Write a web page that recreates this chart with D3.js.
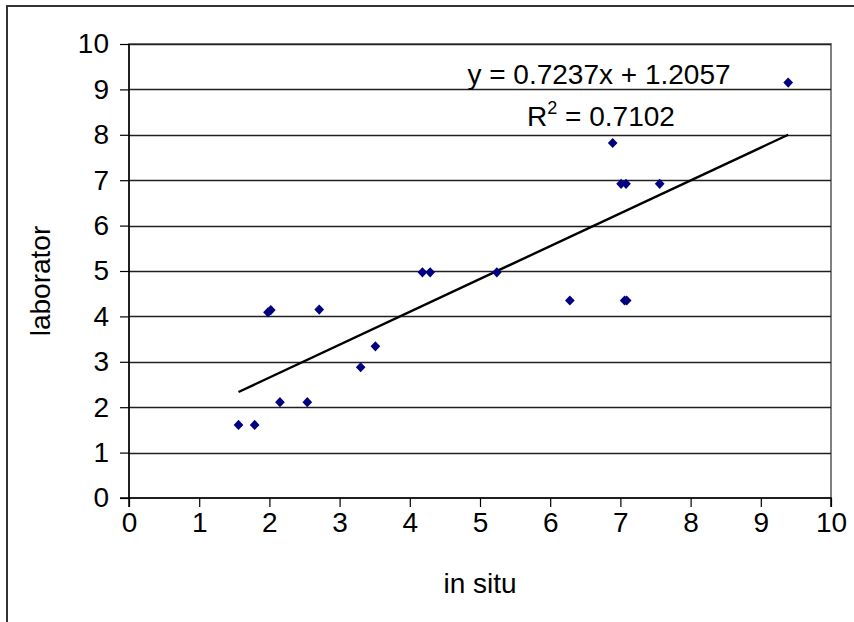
<!DOCTYPE html>
<html>
<head>
<meta charset="utf-8">
<script src="https://cdn.jsdelivr.net/npm/d3@7"></script>
<style>
  html, body { margin: 0; padding: 0; background: #fff; }
  svg { display: block; }
  text { font-family: "Liberation Sans", Arial, sans-serif; fill: #000; }
</style>
</head>
<body>
<svg id="chart" width="854" height="622"></svg>
<script>
// Field measurements: in situ vs. laboratory
const inSitu = [1.56, 1.79, 1.98, 2.02, 2.15, 2.54, 2.71, 3.30, 3.51, 4.18, 4.29, 5.24, 6.28, 6.89, 7.01, 7.08, 7.06, 7.09, 7.56, 9.39];
const laborator = [1.61, 1.61, 4.09, 4.14, 2.11, 2.11, 4.15, 2.88, 3.34, 4.97, 4.97, 4.97, 4.35, 7.82, 6.92, 6.92, 4.35, 4.35, 6.92, 9.15];

// Linear trend line (least squares)
const slope = 0.7237;
const intercept = 1.2057;
const rSquared = 0.7102;

const xTicks = [0, 1, 2, 3, 4, 5, 6, 7, 8, 9, 10];
const yTicks = [0, 1, 2, 3, 4, 5, 6, 7, 8, 9, 10];

const svg = d3.select("#chart");
const plotLeft = 129, plotRight = 831, plotTop = 44, plotBottom = 498;
const fontSize = 28;

const x = d3.scaleLinear().domain([0, 10]).range([plotLeft, plotRight]);
const y = d3.scaleLinear().domain([0, 10]).range([plotBottom, plotTop]);

// outer chart frame
svg.append("path")
  .attr("d", `M7,625 V6 H860`)
  .attr("fill", "none").attr("stroke", "#333").attr("stroke-width", 2);

// plot area frame
svg.append("rect")
  .attr("x", plotLeft).attr("y", plotTop)
  .attr("width", plotRight - plotLeft).attr("height", plotBottom - plotTop)
  .attr("fill", "none").attr("stroke", "#808080").attr("stroke-width", 2);

// horizontal gridlines
svg.append("g").selectAll("line").data(yTicks.filter(d => d > 0)).join("line")
  .attr("x1", plotLeft).attr("x2", plotRight)
  .attr("y1", d => Math.round(y(d)) + 0.5).attr("y2", d => Math.round(y(d)) + 0.5)
  .attr("stroke", "#202020").attr("stroke-width", 1.3);

// axes
const yAxis = svg.append("g")
  .attr("transform", `translate(${plotLeft},0)`)
  .call(d3.axisLeft(y).tickValues(yTicks).tickSize(9).tickPadding(11).tickFormat(d3.format("d")));
const xAxis = svg.append("g")
  .attr("transform", `translate(0,${plotBottom})`)
  .call(d3.axisBottom(x).tickValues(xTicks).tickSize(9).tickPadding(5).tickFormat(d3.format("d")));

[yAxis, xAxis].forEach(g => {
  g.select(".domain").attr("stroke", "#000").attr("stroke-width", 1.5);
  g.selectAll(".tick line").attr("stroke", "#000").attr("stroke-width", 1.2);
  g.selectAll(".tick text").attr("font-size", fontSize).attr("fill", "#000")
    .attr("font-family", "Liberation Sans, Arial, sans-serif");
});
yAxis.select(".domain").attr("d", `M-9,${plotBottom}H0V${plotTop}`);
xAxis.select(".domain").attr("d", `M${plotLeft},9V0H${plotRight}V9`);

// axis titles
svg.append("text")
  .attr("x", 480).attr("y", 593)
  .attr("text-anchor", "middle").attr("font-size", fontSize)
  .text("in situ");
svg.append("text")
  .attr("transform", "translate(50,281) rotate(-90)")
  .attr("text-anchor", "middle").attr("font-size", fontSize)
  .text("laborator");

// trend line across the data range
const xMin = d3.min(inSitu), xMax = d3.max(inSitu);
svg.append("line")
  .attr("x1", x(xMin)).attr("y1", y(slope * xMin + intercept))
  .attr("x2", x(xMax)).attr("y2", y(slope * xMax + intercept))
  .attr("stroke", "#000").attr("stroke-width", 2.4);

// data points
const diamond = d3.symbol().type(d3.symbolDiamond2).size(60);
svg.append("g").selectAll("path").data(inSitu.map((v, i) => [v, laborator[i]])).join("path")
  .attr("d", diamond)
  .attr("transform", d => `translate(${x(d[0])},${y(d[1])}) scale(1,1.05)`)
  .attr("fill", "#000080");

// regression label
svg.append("text")
  .attr("x", 599).attr("y", 84)
  .attr("text-anchor", "middle").attr("font-size", fontSize)
  .text(`y = ${slope}x + ${intercept}`);
const r2 = svg.append("text")
  .attr("x", 601).attr("y", 126)
  .attr("text-anchor", "middle").attr("font-size", fontSize);
r2.append("tspan").text("R");
r2.append("tspan").attr("dy", -12).attr("font-size", 18).text("2");
r2.append("tspan").attr("dy", 12).text(` = ${rSquared}`);
</script>
</body>
</html>
